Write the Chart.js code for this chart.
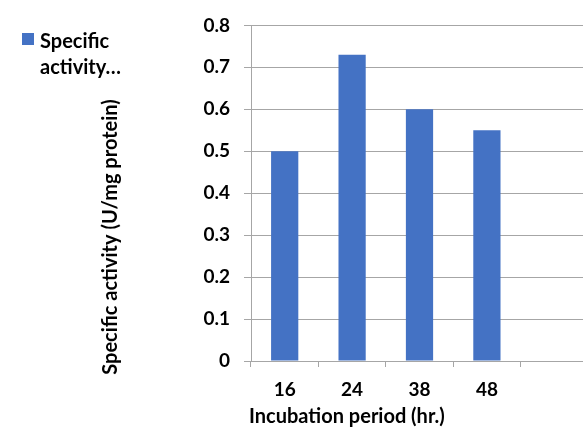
<!DOCTYPE html>
<html>
<head>
<meta charset="utf-8">
<script src="https://cdn.jsdelivr.net/npm/chart.js@4/dist/chart.umd.min.js"></script>
<style>
  html, body { margin:0; padding:0; background:#fff; overflow:hidden; }
  #wrap { position:relative; width:583px; height:430px; overflow:hidden; }
  #chart-box { position:absolute; left:0; top:0; width:588px; height:430px; }
  .legend { position:absolute; left:22px; top:27px; font:bold 20px Lato, sans-serif; color:#000; }
  .legend .swatch { position:absolute; left:0; top:6px; width:12px; height:12px; background:#4472C4; }
  .legend .txt { position:absolute; left:18px; top:0; width:92px; line-height:26px; }
</style>
</head>
<body>
<div id="wrap">
  <div id="chart-box"><canvas id="c" width="588" height="430"></canvas></div>
  <div class="legend"><span class="swatch"></span><div class="txt">Specific activity…</div></div>
</div>
<script>
/* specific activity vs incubation period */

const CATEGORIES = ['16', '24', '38', '48', ''];
const ACTIVITY   = [0.5, 0.73, 0.6, 0.55, null];
const SERIES_NAME = 'Specific activity (U/mg protein)';
const X_TITLE = 'Incubation period (hr.)';
const Y_TITLE = 'Specific activity (U/mg protein)';

const FONT = 'Lato, sans-serif';
const GRID = '#a6a6a6';

// axis titles drawn by hand so they sit where the original put them
const axisTitles = {
  id: 'axisTitles',
  afterDraw(chart) {
    const { ctx, chartArea } = chart;
    ctx.save();
    ctx.fillStyle = '#000';
    ctx.font = `bold 20px ${FONT}`;
    ctx.textBaseline = 'middle';
    ctx.textAlign = 'left';
    ctx.fillText(X_TITLE, chartArea.left - 2, chartArea.bottom + 56);
    ctx.translate(111, 237);
    ctx.rotate(-Math.PI / 2);
    ctx.textAlign = 'center';
    ctx.fillText(Y_TITLE, 0, 0);
    ctx.restore();
  }
};

new Chart(document.getElementById('c'), {
  type: 'bar',
  data: {
    labels: CATEGORIES,
    datasets: [{
      label: SERIES_NAME,
      data: ACTIVITY,
      backgroundColor: '#4472C4',
      borderWidth: 0,
      categoryPercentage: 1,
      barPercentage: 0.404,
    }],
  },
  options: {
    responsive: false,
    animation: false,
    layout: { padding: { top: 23, right: 0, bottom: 0, left: 0 } },
    plugins: { legend: { display: false }, tooltip: { enabled: false } },
    scales: {
      x: {
        grid: { offset: true, drawOnChartArea: false, drawTicks: true, tickLength: 6, color: GRID },
        border: { color: GRID, width: 1 },
        ticks: { color: '#000', font: { family: FONT, size: 19, weight: 'bold' }, padding: 11, maxRotation: 0 },
        afterFit: s => { s.height = 69; },
      },
      y: {
        min: 0, max: 0.8,
        grid: { color: GRID, tickLength: 7 },
        border: { color: GRID, width: 1 },
        ticks: { stepSize: 0.1, color: '#000', font: { family: FONT, size: 19, weight: 'bold' }, padding: 14,
                 callback: v => Math.round(v * 10) / 10 },
        afterFit: s => { s.width = 251; },
      },
    },
  },
  plugins: [axisTitles],
});
</script>
</body>
</html>
